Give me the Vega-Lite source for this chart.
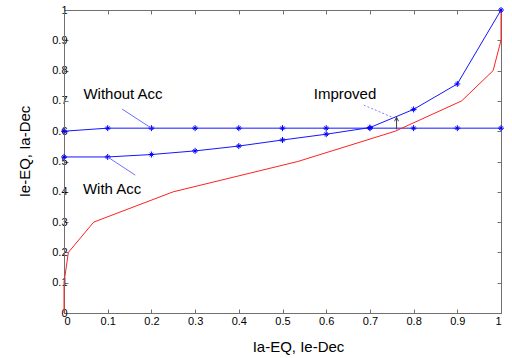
{
  "$schema": "https://vega.github.io/schema/vega-lite/v6.json",
  "width": 437,
  "height": 303,
  "autosize": {"type": "none"},
  "padding": {"left": 64, "top": 10, "right": 11, "bottom": 45},
  "background": "white",
  "config": {
    "view": {"stroke": null},
    "font": "Liberation Sans",
    "axis": {
      "grid": false,
      "domainColor": "#707070",
      "tickColor": "#707070",
      "tickSize": -4,
      "labelFont": "Liberation Sans",
      "labelFontSize": 11,
      "labelColor": "#000000",
      "titleFont": "Liberation Sans",
      "titleFontSize": 15,
      "titleFontWeight": "normal",
      "titleColor": "#000000",
      "values": [0, 0.1, 0.2, 0.3, 0.4, 0.5, 0.6, 0.7, 0.8, 0.9, 1],
      "format": ".1~f"
    }
  },
  "datasets": {
    "lines": [
      {"series": "Without Acc", "i": 0, "x": 0, "y": 0.6},
      {"series": "Without Acc", "i": 1, "x": 0.1, "y": 0.61},
      {"series": "Without Acc", "i": 2, "x": 0.2, "y": 0.61},
      {"series": "Without Acc", "i": 3, "x": 0.3, "y": 0.61},
      {"series": "Without Acc", "i": 4, "x": 0.4, "y": 0.61},
      {"series": "Without Acc", "i": 5, "x": 0.5, "y": 0.61},
      {"series": "Without Acc", "i": 6, "x": 0.6, "y": 0.61},
      {"series": "Without Acc", "i": 7, "x": 0.7, "y": 0.61},
      {"series": "Without Acc", "i": 8, "x": 0.8, "y": 0.61},
      {"series": "Without Acc", "i": 9, "x": 0.9, "y": 0.61},
      {"series": "Without Acc", "i": 10, "x": 1.0, "y": 0.61},
      {"series": "With Acc", "i": 0, "x": 0, "y": 0.515},
      {"series": "With Acc", "i": 1, "x": 0.1, "y": 0.515},
      {"series": "With Acc", "i": 2, "x": 0.2, "y": 0.523},
      {"series": "With Acc", "i": 3, "x": 0.3, "y": 0.535},
      {"series": "With Acc", "i": 4, "x": 0.4, "y": 0.551},
      {"series": "With Acc", "i": 5, "x": 0.5, "y": 0.571},
      {"series": "With Acc", "i": 6, "x": 0.6, "y": 0.59},
      {"series": "With Acc", "i": 7, "x": 0.7, "y": 0.612},
      {"series": "With Acc", "i": 8, "x": 0.8, "y": 0.672},
      {"series": "With Acc", "i": 9, "x": 0.9, "y": 0.756},
      {"series": "With Acc", "i": 10, "x": 1.0, "y": 1.0},
      {"series": "Baseline", "i": 0, "x": 0, "y": 0},
      {"series": "Baseline", "i": 1, "x": 0, "y": 0.1},
      {"series": "Baseline", "i": 2, "x": 0.01, "y": 0.2},
      {"series": "Baseline", "i": 3, "x": 0.068, "y": 0.3},
      {"series": "Baseline", "i": 4, "x": 0.25, "y": 0.4},
      {"series": "Baseline", "i": 5, "x": 0.535, "y": 0.5},
      {"series": "Baseline", "i": 6, "x": 0.758, "y": 0.6},
      {"series": "Baseline", "i": 7, "x": 0.91, "y": 0.7},
      {"series": "Baseline", "i": 8, "x": 0.982, "y": 0.8},
      {"series": "Baseline", "i": 9, "x": 1.0, "y": 0.9},
      {"series": "Baseline", "i": 10, "x": 1.0, "y": 1.0}
    ],
    "pointers": [
      {"label": "Without Acc", "x": 0.133, "y": 0.673, "x2": 0.2, "y2": 0.61},
      {"label": "With Acc", "x": 0.1, "y": 0.515, "x2": 0.163, "y2": 0.455}
    ],
    "dashed": [
      {"label": "Improved", "x": 0.686, "y": 0.686, "x2": 0.753, "y2": 0.645}
    ],
    "arrow": [
      {"x": 0.761, "y": 0.606, "y2": 0.646}
    ],
    "texts": [
      {"text": "Without Acc", "x": 0.135, "y": 0.723},
      {"text": "With Acc", "x": 0.11, "y": 0.409},
      {"text": "Improved", "x": 0.643, "y": 0.723}
    ]
  },
  "resolve": {"axis": {"x": "independent", "y": "independent"}},
  "layer": [
    {
      "data": {"name": "lines"},
      "mark": {"type": "line", "strokeWidth": 1, "clip": false},
      "encoding": {
        "x": {"field": "x", "type": "quantitative", "scale": {"domain": [0, 1], "nice": false, "zero": false},
              "axis": {"orient": "bottom", "title": "Ia-EQ, Ie-Dec", "labelPadding": 6, "titlePadding": 13, "titleX": 234}},
        "y": {"field": "y", "type": "quantitative", "scale": {"domain": [0, 1], "nice": false, "zero": false},
              "axis": {"orient": "left", "title": "Ie-EQ, Ia-Dec", "labelPadding": 1, "titlePadding": 19, "titleY": 141}},
        "color": {"field": "series", "type": "nominal",
                  "scale": {"domain": ["Without Acc", "With Acc", "Baseline"], "range": ["#1515ff", "#1515ff", "#ff2020"]},
                  "legend": null},
        "order": {"field": "i", "type": "quantitative"}
      }
    },
    {
      "data": {"name": "lines"},
      "transform": [{"filter": "datum.series !== 'Baseline'"}],
      "mark": {"type": "point", "filled": false, "stroke": "#0000ff", "strokeWidth": 1, "size": 36, "opacity": 1, "clip": false,
               "shape": "M-1,0L1,0M0,-1L0,1M-0.6,-0.6L0.6,0.6M-0.6,0.6L0.6,-0.6"},
      "encoding": {
        "x": {"field": "x", "type": "quantitative", "axis": null},
        "y": {"field": "y", "type": "quantitative", "axis": null},
        "detail": {"field": "series"}
      }
    },
    {
      "data": {"name": "pointers"},
      "mark": {"type": "rule", "color": "#7070ff", "strokeWidth": 1},
      "encoding": {
        "x": {"field": "x", "type": "quantitative", "axis": null},
        "y": {"field": "y", "type": "quantitative", "axis": null},
        "x2": {"field": "x2"},
        "y2": {"field": "y2"}
      }
    },
    {
      "data": {"name": "dashed"},
      "mark": {"type": "rule", "color": "#8080ff", "strokeWidth": 1, "strokeDash": [2, 2]},
      "encoding": {
        "x": {"field": "x", "type": "quantitative", "axis": null},
        "y": {"field": "y", "type": "quantitative", "axis": null},
        "x2": {"field": "x2"},
        "y2": {"field": "y2"}
      }
    },
    {
      "data": {"name": "arrow"},
      "mark": {"type": "rule", "color": "#404040", "strokeWidth": 1},
      "encoding": {
        "x": {"field": "x", "type": "quantitative", "axis": null},
        "y": {"field": "y", "type": "quantitative", "axis": null},
        "y2": {"field": "y2"}
      }
    },
    {
      "data": {"name": "arrow"},
      "mark": {"type": "point", "filled": false, "stroke": "#404040", "strokeWidth": 1, "size": 16, "opacity": 1,
               "shape": "M-1,2L0,0L1,2"},
      "encoding": {
        "x": {"field": "x", "type": "quantitative", "axis": null},
        "y": {"field": "y2", "type": "quantitative", "axis": null}
      }
    },
    {
      "data": {"name": "texts"},
      "mark": {"type": "text", "font": "Liberation Sans", "fontSize": 15, "color": "#000000", "align": "center", "baseline": "middle"},
      "encoding": {
        "x": {"field": "x", "type": "quantitative",
              "axis": {"orient": "top", "labels": false, "title": null}},
        "y": {"field": "y", "type": "quantitative",
              "axis": {"orient": "right", "labels": false, "title": null}},
        "text": {"field": "text"}
      }
    }
  ]
}
